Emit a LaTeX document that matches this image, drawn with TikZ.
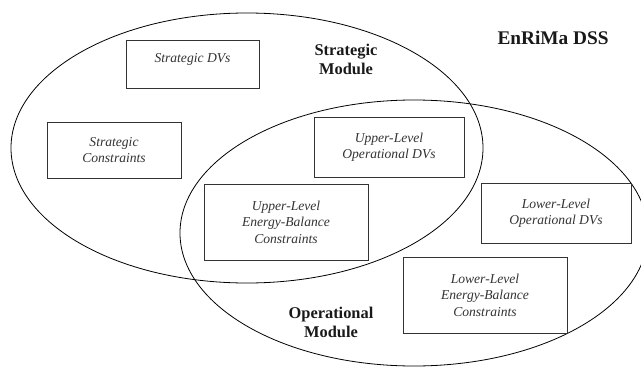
\documentclass[tikz,border=0pt]{standalone}
\usepackage{fontspec}
\setmainfont{Liberation Serif}
\begin{document}
\begin{tikzpicture}[x=1pt,y=1pt,
  dvbox/.style={draw=black!80, line width=0.9pt, fill=white, inner sep=0pt, align=center,
    font=\fontsize{13.6}{16.5}\selectfont\itshape, text=black!80},
  modlabel/.style={align=center, font=\fontsize{16.4}{19}\selectfont\bfseries, text=black!90},
  venn/.style={draw=black, line width=0.8pt}]
\useasboundingbox (0,0) rectangle (641,-367);
% module ellipses
\draw[venn] (247,-148) ellipse [x radius=236, y radius=135];
\draw[venn] (414,-233) ellipse [x radius=234, y radius=133];
% boxes
\node[dvbox, minimum width=133pt, minimum height=48pt] (sdv) at (192.5,-64) {};
\node[dvbox, draw=none, fill=none] (sdvt) at (192.5,-59) {Strategic DVs};
\node[dvbox, minimum width=134pt, minimum height=56pt] (scon) at (114,-150) {Strategic\\Constraints};
\node[dvbox, minimum width=150pt, minimum height=60pt] (uod) at (389,-147) {Upper-Level\\Operational DVs};
\node[dvbox, minimum width=164pt, minimum height=76pt] (uebc) at (286,-222) {Upper-Level\\Energy-Balance\\Constraints};
\node[dvbox, minimum width=150pt, minimum height=60pt] (lod) at (556,-213) {Lower-Level\\Operational DVs};
\node[dvbox, minimum width=164pt, minimum height=76pt] (lebc) at (485,-295) {Lower-Level\\Energy-Balance\\Constraints};
% labels
\node[modlabel] (sm) at (346,-59) {Strategic\\Module};
\node[modlabel] (om) at (331,-322) {Operational\\Module};
\node[modlabel, font=\fontsize{19.3}{22}\selectfont\bfseries] (dss) at (553,-38) {EnRiMa DSS};
\end{tikzpicture}
\end{document}
